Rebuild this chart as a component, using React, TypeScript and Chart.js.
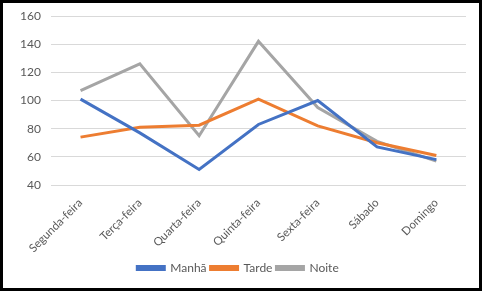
import React, { useEffect, useRef } from "react";
import { Chart, registerables } from "chart.js";

Chart.register(...registerables);

const categories = ["Segunda-feira", "Terça-feira", "Quarta-feira", "Quinta-feira", "Sexta-feira", "Sábado", "Domingo"];
const manha = [101, 77, 51, 83, 100, 67, 58];
const tarde = [74, 81, 82.5, 101, 82, 70, 61];
const noite = [107, 126, 75, 142, 95, 71, 57];
const yTicks = [40, 60, 80, 100, 120, 140, 160];

export default function App() {
  const ref = useRef<HTMLCanvasElement>(null);
  useEffect(() => {
    document.body.style.margin = "0";
    const family = "Lato, 'Liberation Sans', sans-serif";
    const font = { family, size: 12 };
    const chart = new Chart(ref.current!, {
      type: "line",
      data: {
        labels: categories,
        datasets: [
          { label: "Manhã", data: manha, borderColor: "#4472C4", backgroundColor: "#4472C4" },
          { label: "Tarde", data: tarde, borderColor: "#ED7D31", backgroundColor: "#ED7D31" },
          { label: "Noite", data: noite, borderColor: "#A5A5A5", backgroundColor: "#A5A5A5" },
        ].map((d) => ({ ...d, borderWidth: 3, pointRadius: 0, tension: 0, fill: false })),
      },
      options: {
        animation: false,
        responsive: false,
        maintainAspectRatio: false,
        layout: { padding: { left: 7, right: 13, top: 13, bottom: 4 } },
        plugins: {
          tooltip: { enabled: false },
          legend: {
            position: "bottom",
            labels: {
              boxWidth: 27,
              boxHeight: 3,
              color: "#595959",
              font,
              padding: 4,
            },
          },
        },
        scales: {
          x: {
            offset: true,
            grid: { display: false },
            border: { display: false },
            ticks: { color: "#595959", font: { family, size: 11.5 }, maxRotation: 45, minRotation: 45, padding: 3 },
            afterFit: (s: any) => {
              s.height = 73;
            },
          },
          y: {
            min: 40,
            max: 160,
            afterBuildTicks: (s: any) => {
              s.ticks = yTicks.map((v) => ({ value: v }));
            },
            afterFit: (s: any) => {
              s.paddingTop = 0;
              s.paddingBottom = 0;
            },
            grid: { color: "#D9D9D9", drawTicks: false, lineWidth: 1 },
            border: { display: false },
            ticks: { color: "#595959", font, padding: 10 },
          },
        },
      },
    });
    return () => chart.destroy();
  }, []);
  return (
    <div
      style={{
        width: 482,
        height: 291,
        boxSizing: "border-box",
        border: "3px solid #000",
        background: "#fff",
      }}
    >
      <canvas ref={ref} width={476} height={285} style={{ display: "block" }} />
    </div>
  );
}
